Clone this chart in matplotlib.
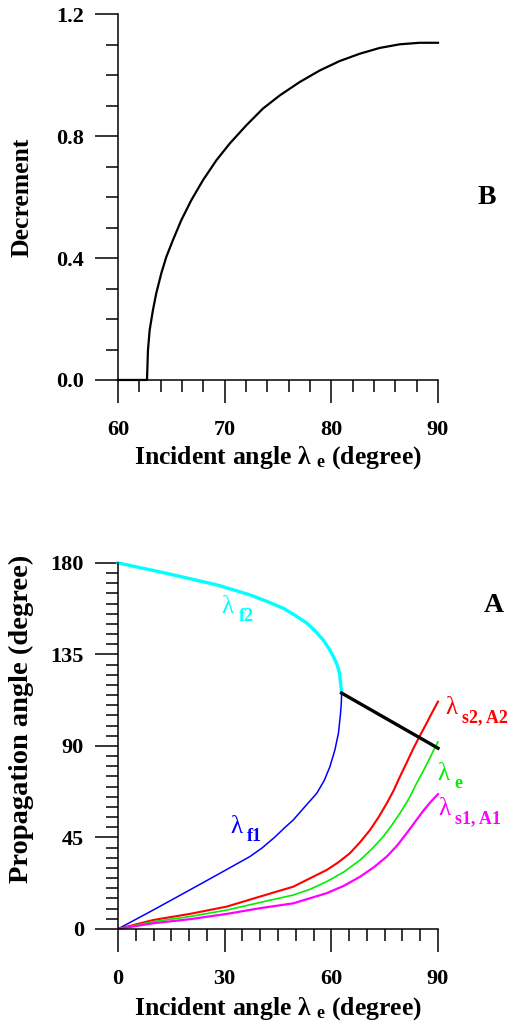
import matplotlib
matplotlib.use('Agg')
import matplotlib.pyplot as plt
from matplotlib.ticker import MultipleLocator

plt.rcParams['font.family'] = ['Liberation Serif', 'DejaVu Serif']
plt.rcParams['font.weight'] = 'bold'
plt.rcParams['axes.labelweight'] = 'bold'

# panel B: decrement vs incident angle
dec_angle = [60, 62.72, 62.81, 62.97, 63.28, 63.59, 64.06, 64.53, 65.16, 65.94,
             66.87, 67.97, 69.22, 70.47, 72.03, 73.59, 75.16, 77.03, 78.91,
             80.78, 82.66, 84.53, 86.41, 88.28, 90.0]
decrement = [0, 0, 0.098, 0.164, 0.230, 0.285, 0.350, 0.404, 0.460, 0.525,
             0.590, 0.656, 0.721, 0.776, 0.836, 0.891, 0.934, 0.978, 1.016,
             1.047, 1.071, 1.090, 1.102, 1.107, 1.107]

# panel A: propagation angles vs incident angle
f2_x = [0, 13.6, 27.8, 37.1, 42.0, 46.5, 50.0, 53.1, 55.5, 57.7, 59.3, 60.6,
        61.6, 62.3, 62.6, 62.9]
f2_y = [180, 174.9, 169.2, 164.3, 161.0, 157.7, 154.0, 150.4, 146.5, 142.1,
        138.0, 133.9, 130.0, 125.8, 121.0, 116]
f1_x = [0, 9.9, 20.2, 28.7, 37.1, 40.5, 44.0, 47.0, 49.3, 52.5, 55.9, 58.0,
        59.6, 61.0, 62.0, 62.6, 62.8, 62.9]
f1_y = [0, 9.3, 19.2, 27.4, 35.6, 39.8, 45.0, 50.0, 53.6, 60.0, 66.7, 73.0,
        79.8, 88.0, 96.3, 106.1, 111.0, 116]
s2_x = [0, 9.9, 20.2, 30.6, 39.9, 49.3, 54.0, 58.7, 62.0, 65.2, 68.0, 70.9,
        73.3, 75.6, 77.5, 79.3, 81.2, 83.0, 84.9, 86.8, 88.4, 90]
s2_y = [0, 4.4, 7.4, 11.0, 15.9, 20.8, 24.9, 29.0, 32.8, 37.2, 42.5, 48.7,
        55.0, 61.8, 68.0, 74.9, 81.8, 88.5, 95.0, 101.2, 106.6, 111.8]
e_x = [0, 9.9, 20.2, 30.6, 39.9, 49.3, 54.0, 58.7, 63.5, 68.1, 71.5, 74.6,
       77.0, 79.3, 81.8, 84.0, 85.8, 87.3, 88.7, 90]
e_y = [0, 3.6, 6.1, 9.3, 13.0, 16.7, 19.5, 23.3, 28.0, 33.9, 39.5, 45.4,
       51.0, 56.9, 64.0, 71.7, 77.5, 82.6, 87.6, 92.0]
s1_x = [0, 9.9, 20.2, 30.6, 39.9, 49.3, 54.0, 58.7, 63.5, 68.1, 72.0, 75.6,
        78.5, 81.2, 83.7, 85.9, 88.0, 90]
s1_y = [0, 2.8, 4.8, 7.4, 10.2, 12.6, 15.1, 17.6, 21.2, 25.7, 30.4, 35.6,
        41.0, 47.1, 53.0, 58.2, 62.6, 66.3]
link_x = [62.9, 90]
link_y = [116, 88.9]

TICK = 16
LABEL = 18.5


def style_axes(ax):
    for side in ['top', 'right']:
        ax.spines[side].set_visible(False)
    for side in ['left', 'bottom']:
        ax.spines[side].set_linewidth(1.1)
    ax.tick_params(which='major', direction='out', length=16.5, width=1.1,
                   labelsize=TICK)
    ax.tick_params(which='minor', direction='out', length=8.5, width=1.1)
    ax.tick_params(axis='y', which='major', pad=8)
    ax.tick_params(axis='x', which='major', pad=12.5)
    for lab in ax.get_xticklabels() + ax.get_yticklabels():
        lab.set_fontweight('bold')


def curve_label(ax, x, y, sub, col):
    ax.text(x, y, 'λ', color=col, fontsize=18, fontweight='normal',
            ha='left', va='baseline', clip_on=False)
    ax.annotate(sub, xy=(x, y), xytext=(12.5, -6), textcoords='offset points',
                color=col, fontsize=13, fontweight='bold',
                ha='left', va='baseline', annotation_clip=False)


fig = plt.figure(figsize=(5.09, 10.25), dpi=100)

# ---- top panel (B)
axb = fig.add_axes([0.2318, 0.6293, 0.6287, 0.3566])
axb.plot(dec_angle, decrement, color='black', lw=1.6, clip_on=False)
axb.set_xlim(60, 90)
axb.set_ylim(0, 1.2)
axb.xaxis.set_major_locator(MultipleLocator(10))
axb.xaxis.set_minor_locator(MultipleLocator(2))
axb.yaxis.set_major_locator(MultipleLocator(0.4))
axb.yaxis.set_minor_locator(MultipleLocator(0.1))
axb.yaxis.set_major_formatter(lambda v, p: f'{v:.1f}')
style_axes(axb)
axb.set_xlabel(r'Incident angle $\mathregular{\lambda_{\ e}}$ (degree)',
               fontsize=LABEL, labelpad=3)
axb.set_ylabel('Decrement', fontsize=LABEL)
axb.yaxis.set_label_coords(-0.265, 0.5)
fig.text(487 / 509, 1 - 197 / 1025, 'B', fontsize=20, ha='center', va='center')

# ---- bottom panel (A)
axa = fig.add_axes([0.2318, 0.0937, 0.6287, 0.3571])
axa.plot(f2_x, f2_y, color='cyan', lw=2.4, clip_on=False)
axa.plot(f1_x, f1_y, color='blue', lw=1.1, clip_on=False)
axa.plot(s2_x, s2_y, color='red', lw=1.5, clip_on=False)
axa.plot(e_x, e_y, color='#00ee00', lw=1.2, clip_on=False)
axa.plot(s1_x, s1_y, color='magenta', lw=1.6, clip_on=False)
axa.plot(link_x, link_y, color='black', lw=2.4, clip_on=False)
axa.set_xlim(0, 90)
axa.set_ylim(0, 180)
axa.xaxis.set_major_locator(MultipleLocator(30))
axa.xaxis.set_minor_locator(MultipleLocator(5))
axa.yaxis.set_major_locator(MultipleLocator(45))
axa.yaxis.set_minor_locator(MultipleLocator(5))
style_axes(axa)
axa.set_xlabel(r'Incident angle $\mathregular{\lambda_{\ e}}$ (degree)',
               fontsize=LABEL, labelpad=4)
axa.set_ylabel('Propagation angle (degree)', fontsize=20.5)
axa.yaxis.set_label_coords(-0.262, 0.575)

curve_label(axa, 29.2, 155.4, 'f2', 'cyan')
curve_label(axa, 31.5, 47.2, 'f1', 'blue')
curve_label(axa, 92.0, 105.6, 's2, A2', 'red')
curve_label(axa, 89.7, 73.3, 'e', '#00ee00')
curve_label(axa, 90.0, 56.0, 's1, A1', 'magenta')

fig.text(494 / 509, 1 - 605 / 1025, 'A', fontsize=20, ha='center', va='center')

fig.savefig('out.png', dpi=100)
